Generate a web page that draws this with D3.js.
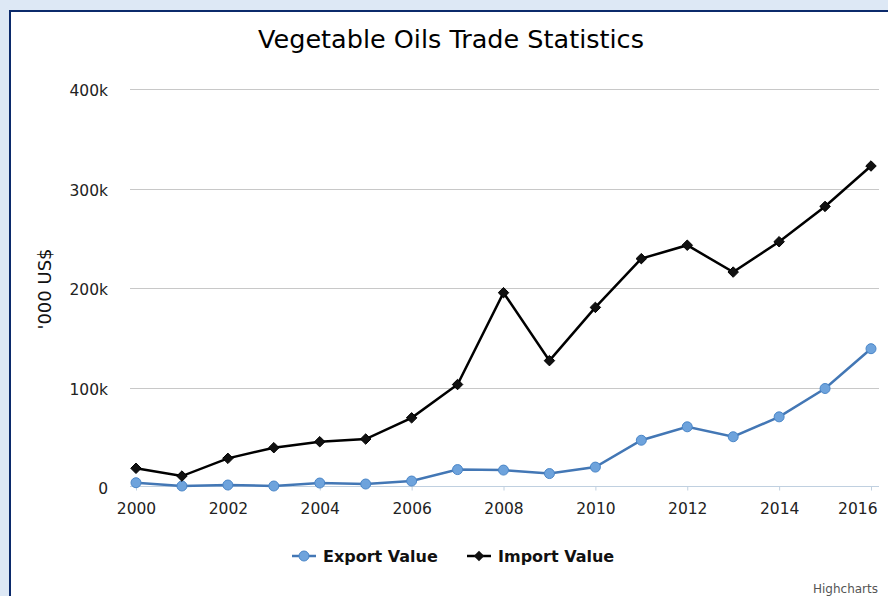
<!DOCTYPE html>
<html>
<head>
<meta charset="utf-8">
<script src="https://cdn.jsdelivr.net/npm/d3@7"></script>
<style>
  html, body { margin: 0; padding: 0; background: #dde8f5; overflow: hidden; }
  #frame {
    position: absolute; left: 9px; top: 10px; width: 900px; height: 620px;
    background: #fff; border: 2px solid #0b2a6b; box-sizing: border-box;
  }
  svg { position: absolute; left: 0; top: 0; font-family: "DejaVu Sans", sans-serif; }
</style>
</head>
<body>
<div id="frame"></div>
<svg id="chart" width="888" height="596"></svg>
<script>
const years = [2000, 2001, 2002, 2003, 2004, 2005, 2006, 2007, 2008, 2009, 2010, 2011, 2012, 2013, 2014, 2015, 2016]
const exportValue = [4300, 1000, 2000, 1000, 4000, 3000, 6000, 17500, 17000, 13500, 20000, 47000, 60500, 50500, 70500, 99000, 139000]
const importValue = [18800, 11000, 28800, 39500, 45500, 48200, 69500, 103000, 195300, 127000, 180500, 229500, 243000, 216000, 246500, 282000, 322600]
const yTicks = [0, 100000, 200000, 300000, 400000]
const xTicks = [2000, 2002, 2004, 2006, 2008, 2010, 2012, 2014, 2016]

const svg = d3.select('#chart')

const plot = { left: 130, right: 879, top: 89, bottom: 487 }

const x = d3.scaleLinear().domain([2000, 2016]).range([136, 871])
const y = d3.scaleLinear().domain([0, 400000]).range([plot.bottom, plot.top])

// title
svg.append('text')
  .attr('x', 451).attr('y', 48)
  .attr('text-anchor', 'middle')
  .style('font-size', '25.5px')
  .style('fill', '#000')
  .text('Vegetable Oils Trade Statistics')

// grid
svg.append('g')
  .selectAll('line')
  .data(yTicks.filter(d => d > 0))
  .join('line')
  .attr('x1', plot.left).attr('x2', plot.right)
  .attr('y1', d => Math.round(y(d)) + 0.5).attr('y2', d => Math.round(y(d)) + 0.5)
  .attr('stroke', '#c8c8c8').attr('stroke-width', 1)

// y axis labels
const yAxis = svg.append('g')
  .attr('transform', `translate(${plot.left},0)`)
  .call(d3.axisLeft(y).tickValues(yTicks).tickSize(0).tickPadding(22)
    .tickFormat(d => d === 0 ? '0' : (d / 1000) + 'k'))
yAxis.select('.domain').remove()
yAxis.selectAll('text').attr('dy', '0.45em')
  .style('font-size', '15.5px').style('fill', '#222').style('font-family', '"DejaVu Sans", sans-serif')

svg.append('text')
  .attr('transform', 'translate(51,289) rotate(-90)')
  .attr('text-anchor', 'middle')
  .style('font-size', '18px')
  .style('fill', '#111')
  .text("'000 US$")

// x axis
const xAxis = svg.append('g')
  .attr('transform', `translate(0,${plot.bottom - 0.5})`)
  .call(d3.axisBottom(x).tickValues(xTicks).tickSize(4).tickPadding(12).tickFormat(d3.format('d')))
xAxis.select('.domain').attr('d', `M${plot.left},0H${plot.right}`).attr('stroke', '#c0d0e0')
xAxis.selectAll('.tick line').attr('stroke', '#c0d0e0')
xAxis.selectAll('text').style('font-size', '15.5px').style('fill', '#222').style('font-family', '"DejaVu Sans", sans-serif')
// keep the last label inside the chart, like the edge label in the original
xAxis.selectAll('.tick').filter(d => d === 2016).select('text')
  .attr('text-anchor', 'end').attr('x', 877 - x(2016))

const line = d3.line().x((d, i) => x(years[i])).y(d => y(d))

// export series
svg.append('path')
  .datum(exportValue)
  .attr('d', line)
  .attr('fill', 'none')
  .attr('stroke', '#4377b5')
  .attr('stroke-width', 2.5)

svg.append('g')
  .selectAll('circle')
  .data(exportValue)
  .join('circle')
  .attr('cx', (d, i) => x(years[i]))
  .attr('cy', d => y(d))
  .attr('r', 5)
  .attr('fill', '#6ea3dc')
  .attr('stroke', '#4a86c8')
  .attr('stroke-width', 1)

// import series
svg.append('path')
  .datum(importValue)
  .attr('d', line)
  .attr('fill', 'none')
  .attr('stroke', '#000')
  .attr('stroke-width', 2.5)

const diamond = d3.symbol().type(d3.symbolDiamond2).size(70)
svg.append('g')
  .selectAll('path')
  .data(importValue)
  .join('path')
  .attr('transform', (d, i) => `translate(${x(years[i])},${y(d)})`)
  .attr('d', diamond)
  .attr('fill', '#111')
  .attr('stroke', '#000')
  .attr('stroke-width', 1)

// legend
const legend = svg.append('g').attr('transform', 'translate(0,556)')
const legendItems = [
  { name: 'Export Value', x: 292, color: '#4377b5', marker: 'circle' },
  { name: 'Import Value', x: 467, color: '#000', marker: 'diamond' }
]
legendItems.forEach(item => {
  const g = legend.append('g').attr('transform', `translate(${item.x},0)`)
  g.append('line').attr('x1', 0).attr('x2', 24).attr('y1', 0).attr('y2', 0)
    .attr('stroke', item.color).attr('stroke-width', 2.5)
  if (item.marker === 'circle') {
    g.append('circle').attr('cx', 12).attr('cy', 0).attr('r', 5)
      .attr('fill', '#6ea3dc').attr('stroke', '#4a86c8')
  } else {
    g.append('path').attr('transform', 'translate(12,0)').attr('d', diamond).attr('fill', '#111')
  }
  g.append('text').attr('x', 31).attr('y', 6)
    .style('font-size', '16px').style('font-weight', 'bold').style('fill', '#111')
    .text(item.name)
})

// credits
svg.append('text')
  .attr('x', 878).attr('y', 593)
  .attr('text-anchor', 'end')
  .style('font-size', '12px')
  .style('fill', '#555')
  .text('Highcharts')
</script>
</body>
</html>
